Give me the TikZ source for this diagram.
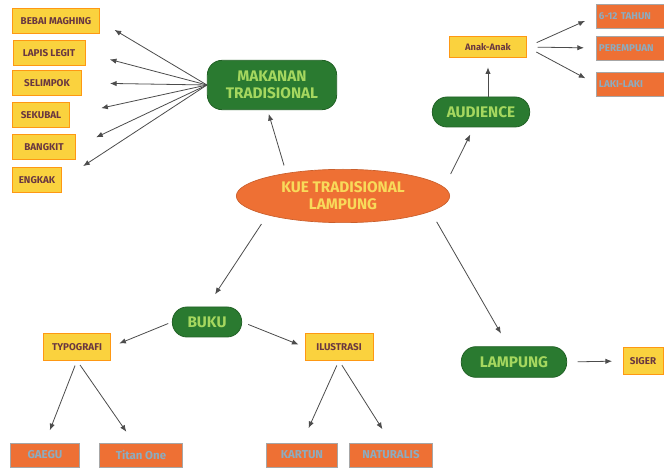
\documentclass[tikz,border=0pt]{standalone}
\usepackage{fontspec}
\setmainfont{Fira Sans}
\usetikzlibrary{arrows.meta, positioning, shapes.geometric}
\definecolor{greencolor} {RGB}{ 42, 122,  48}
\definecolor{limecolor}  {RGB}{165, 215,  95}
\definecolor{orangecolor}{RGB}{238, 112,  52}
\definecolor{yellowcolor}{RGB}{250, 210,  62}
\definecolor{browncolor} {RGB}{105,  55,  65}
\definecolor{bluecolor}  {RGB}{140, 172, 192}
\definecolor{kuecolor}   {RGB}{248, 218,  90}
\tikzset{
	greenblock/.style={
		rectangle, rounded corners=11pt,
		fill=greencolor, draw=greencolor!80!black, line width=0.6pt,
		text=limecolor, align=center, inner sep=1pt,
		font=\fontsize{11.5}{13}\selectfont\bfseries
	},
	yellowblock/.style={
		rectangle, fill=yellowcolor, draw=orange!70!yellowcolor, line width=0.4pt,
		text=browncolor, inner sep=1pt, minimum height=19pt,
		font=\fontsize{7.4}{8}\selectfont\bfseries
	},
	orangeblock/.style={
		rectangle, fill=orangecolor, draw=gray!70, line width=0.4pt,
		text=bluecolor, inner sep=1pt, minimum height=18pt,
		font=\fontsize{8.6}{9}\selectfont\bfseries
	},
	sideblock/.style={
		orangeblock, anchor=west, text width=64pt, align=left,
		inner xsep=2pt, font=\fontsize{7.4}{8}\selectfont\bfseries
	},
	mainellipse/.style={
		ellipse, fill=orangecolor, draw=orangecolor!85!black, line width=0.5pt,
		text=kuecolor, align=center, inner sep=0pt,
		minimum width=160pt, minimum height=40pt,
		font=\fontsize{11.5}{13}\selectfont\bfseries
	},
	arrow/.style={
		-{Latex[length=5pt, width=4pt]}, line width=0.6pt, color=black!70
	}
}
\begin{document}
\begin{tikzpicture}[x=0.75pt, y=-0.75pt]
	\useasboundingbox[fill=white] (0,0) rectangle (664,470);
	
	%% ═══════════════════════════════
	%%  CENTRE
	%% ═══════════════════════════════
	\node[mainellipse] (kue) at (343,196) {KUE TRADISIONAL\\LAMPUNG};
	
	%% ═══════════════════════════════
	%%  TOP LEFT — Makanan Tradisional
	%% ═══════════════════════════════
	\node[greenblock, minimum width=97pt, minimum height=37pt] (mkn) at (272,85) {MAKANAN\\TRADISIONAL};
	
	\node[yellowblock, minimum width=65pt] (bebai)    at (56,21)  {BEBAI MAGHING};
	\node[yellowblock, minimum width=54pt] (lapis)    at (49,53)  {LAPIS LEGIT};
	\node[yellowblock, minimum width=52pt] (selimpok) at (47,83)  {SELIMPOK};
	\node[yellowblock, minimum width=43pt] (sekubal)  at (41,115) {SEKUBAL};
	\node[yellowblock, minimum width=47pt] (bangkit)  at (44,147) {BANGKIT};
	\node[yellowblock, minimum width=37pt] (engkak)   at (37,180) {ENGKAK};
	
	%% ═══════════════════════════════
	%%  TOP RIGHT — Audience
	%% ═══════════════════════════════
	\node[greenblock, minimum width=73pt, minimum height=22.5pt] (aud) at (481,112) {AUDIENCE};
	\node[yellowblock, minimum width=58pt, minimum height=16pt,
	font=\fontsize{7}{8}\selectfont\bfseries] (anak) at (488,47) {Anak-Anak};
	
	\node[sideblock] (usia)  at (596,16) {6-12 TAHUN};
	\node[sideblock] (cewek) at (596,48) {PEREMPUAN};
	\node[sideblock] (cowok) at (596,84) {LAKI-LAKI};
	
	%% ═══════════════════════════════
	%%  BOTTOM LEFT — Buku
	%% ═══════════════════════════════
	\node[greenblock, minimum width=52pt, minimum height=22.5pt] (buku) at (207,322) {BUKU};
	
	\node[yellowblock, minimum width=50pt, minimum height=20pt] (typo) at (77,347)  {TYPOGRAFI};
	\node[yellowblock, minimum width=51pt, minimum height=20pt] (ilus) at (339,347) {ILUSTRASI};
	
	\node[orangeblock, minimum width=52pt] (gaegu) at (45,455)  {GAEGU};
	\node[orangeblock, minimum width=62pt] (titan) at (141,455) {Titan One};
	\node[orangeblock, minimum width=53pt] (kartun) at (302,455) {KARTUN};
	\node[orangeblock, minimum width=62pt] (natur)  at (391,455) {NATURALIS};
	
	%% ═══════════════════════════════
	%%  BOTTOM RIGHT — Lampung
	%% ═══════════════════════════════
	\node[greenblock, minimum width=79pt, minimum height=23pt] (lpg) at (514,362) {LAMPUNG};
	\node[yellowblock, minimum width=30pt, minimum height=20pt] (siger) at (643,361) {SIGER};
	
	% centre -> branches
	\draw[arrow, shorten <=6pt, shorten >=3pt] (kue.158) -- (mkn.260);
	\draw[arrow, shorten <=11pt, shorten >=6pt] (kue.5) -- (aud.245);
	\draw[arrow, shorten <=8pt, shorten >=11pt] (kue.south west) -- (buku.north);
	\draw[arrow, shorten <=9pt, shorten >=11pt] (kue.-10) -- (lpg.110);
	
	% makanan tradisional -> kue
	\draw[arrow, shorten >=13pt] (mkn.west) -- (bebai.east);
	\draw[arrow, shorten >=19pt] (mkn.west) -- (lapis.east);
	\draw[arrow, shorten >=21pt] (mkn.west) -- (selimpok.east);
	\draw[arrow, shorten >=24pt] (mkn.west) -- (sekubal.east);
	\draw[arrow, shorten >=17pt] (mkn.west) -- (bangkit.east);
	\draw[arrow, shorten >=19pt] (mkn.west) -- (engkak.east);
	
	% audience
	\draw[arrow, shorten >=7pt] (aud.north -| anak.south) -- (anak.south);
	\draw[arrow, shorten <=8pt, shorten >=9pt] (anak.east) -- (usia.west);
	\draw[arrow, shorten <=8pt, shorten >=9pt] (anak.east) -- (cewek.west);
	\draw[arrow, shorten <=8pt, shorten >=9pt] (anak.east) -- (cowok.west);
	
	% buku
	\draw[arrow, shorten <=3pt, shorten >=7pt] (buku.west) -- (typo.east);
	\draw[arrow, shorten <=5pt, shorten >=5pt] (buku.east) -- (ilus.west);
	\draw[arrow, shorten <=4pt, shorten >=10pt] (typo.south) -- (gaegu.north);
	\draw[arrow, shorten <=4pt, shorten >=10pt] (typo.south) -- (titan.120);
	\draw[arrow, shorten <=4pt, shorten >=12pt] (ilus.south) -- (kartun.north);
	\draw[arrow, shorten <=4pt, shorten >=12pt] (ilus.south) -- (natur.north);
	
	% lampung
	\draw[arrow, shorten <=8pt, shorten >=8pt] (lpg.east) -- (siger.west);
	
\end{tikzpicture}
\end{document}
